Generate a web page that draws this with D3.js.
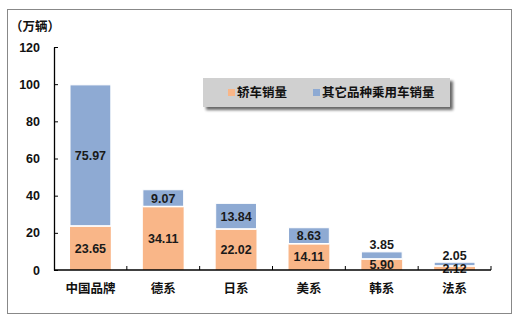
<!DOCTYPE html>
<html><head><meta charset="utf-8">
<script src="https://cdn.jsdelivr.net/npm/d3@7"></script>
<style>
body{margin:0;background:#fff;}
text{font-family:"Liberation Sans","Noto Sans CJK SC",Arial,sans-serif;}
</style></head>
<body>
<svg id="c" width="524" height="326"></svg>
<script>
const categories = ["中国品牌","德系","日系","美系","韩系","法系"];
const sedanSales = [23.65,34.11,22.02,14.11,5.90,2.12];
const otherSales = [75.97,9.07,13.84,8.63,3.85,2.05];
const seriesNames = ["轿车销量","其它品种乘用车销量"];
const yTicks = [0,20,40,60,80,100,120];
const unitLabel = "（万辆）";

const colors = ["#F9B688","#8EAAD3"];
const svg = d3.select("#c");
const font = '"Liberation Sans","Noto Sans CJK SC",Arial,sans-serif';

// outer frame
svg.append("rect").attr("x",7.5).attr("y",9.5).attr("width",504).attr("height",304)
  .attr("fill","#fff").attr("stroke","#888").attr("stroke-width",1);

const x = d3.scaleBand().domain(categories).range([54,491]).paddingInner(0.44).paddingOuter(0.22);
const y = d3.scaleLinear().domain([0,120]).range([270,47]);

// legend with shadow
const defs = svg.append("defs");
const f = defs.append("filter").attr("id","sh").attr("x","-10%").attr("y","-30%").attr("width","130%").attr("height","180%");
f.append("feGaussianBlur").attr("in","SourceAlpha").attr("stdDeviation",1.5);
f.append("feOffset").attr("dx",3).attr("dy",3).attr("result","ob");
f.append("feComponentTransfer").append("feFuncA").attr("type","linear").attr("slope",0.6);
const fm = f.append("feMerge"); fm.append("feMergeNode"); fm.append("feMergeNode").attr("in","SourceGraphic");

const lg = svg.append("g");
lg.append("rect").attr("x",203).attr("y",78).attr("width",247).attr("height",29)
  .attr("fill","#D0D0D0").attr("filter","url(#sh)");
const legX = [228,313];
seriesNames.forEach((n,i)=>{
  lg.append("rect").attr("x",legX[i]).attr("y",89).attr("width",7).attr("height",7).attr("fill",colors[i]);
  lg.append("text").attr("x",legX[i]+9).attr("y",93).attr("dy","0.35em")
    .attr("font-size",12.5).attr("font-weight","bold").attr("fill","#111").text(n);
});

// bars
const stacked = d3.stack().keys([0,1])(categories.map((c,i)=>({cat:c,0:sedanSales[i],1:otherSales[i]})));
stacked.forEach((s,si)=>{
  svg.append("g").selectAll("rect").data(s).join("rect")
    .attr("x",d=>x(d.data.cat)).attr("width",x.bandwidth())
    .attr("y",d=>y(d[1])).attr("height",d=>y(d[0])-y(d[1]))
    .attr("fill",colors[si]).attr("stroke","#fff").attr("stroke-width",si===1?1:0);
});
// separator white line
svg.append("g").selectAll("line").data(stacked[0]).join("line")
  .attr("x1",d=>x(d.data.cat)).attr("x2",d=>x(d.data.cat)+x.bandwidth())
  .attr("y1",d=>y(d[1])).attr("y2",d=>y(d[1])).attr("stroke","#fff").attr("stroke-width",1.5);

// labels
stacked.forEach((s,si)=>{
  svg.append("g").selectAll("text").data(s).join("text")
    .attr("x",d=>x(d.data.cat)+x.bandwidth()/2)
    .attr("y",d=>{
      const h = y(d[0])-y(d[1]);
      if(si===1 && h<14) return y(d[1])-7;
      return (y(d[0])+y(d[1]))/2;
    })
    .attr("dy","0.36em").attr("text-anchor","middle")
    .attr("font-size",12.5).attr("font-weight","bold").attr("fill","#1a1a1a")
    .text(d=>(d[1]-d[0]).toFixed(2));
});

// axes
const ya = svg.append("g").attr("transform","translate(54,0)")
  .call(d3.axisLeft(y).tickValues(yTicks).tickSize(-4).tickPadding(14).tickSizeOuter(0));
ya.select(".domain").attr("stroke","#000").attr("stroke-width",1.3);
ya.selectAll(".tick line").attr("stroke","#000");
ya.selectAll("text").attr("font-size",12.5).attr("font-weight","bold").attr("fill","#111").attr("font-family",font);

const bounds = categories.map(c=>x(c)-x.step()*x.paddingInner()/2).concat([491]);
bounds[0]=54;
const xa = svg.append("g");
xa.append("line").attr("x1",54).attr("x2",491).attr("y1",270).attr("y2",270).attr("stroke","#000").attr("stroke-width",1.3);
xa.selectAll("line.t").data(bounds.slice(1)).join("line").attr("class","t")
  .attr("x1",d=>d).attr("x2",d=>d).attr("y1",270).attr("y2",266).attr("stroke","#000");
xa.selectAll("text").data(categories).join("text")
  .attr("x",c=>x(c)+x.bandwidth()/2).attr("y",289).attr("dy","0.35em").attr("text-anchor","middle")
  .attr("font-size",12.5).attr("font-weight","bold").attr("fill","#111").text(c=>c);

svg.append("text").attr("x",10).attr("y",27).attr("dy","0.35em")
  .attr("font-size",12.5).attr("font-weight","bold").attr("fill","#111").text(unitLabel);
</script>
</body></html>
